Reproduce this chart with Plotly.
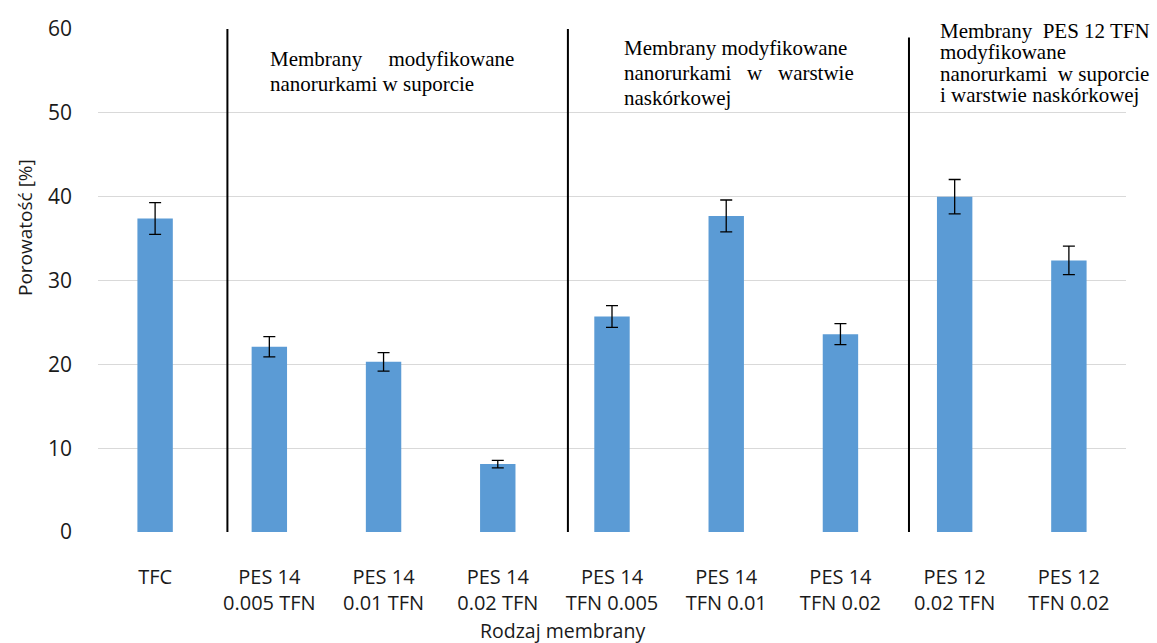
import plotly.graph_objects as go

# Porosity of the membranes (mean value and standard deviation)
categories = [
    "TFC",
    "PES 14<br>0.005 TFN",
    "PES 14<br>0.01 TFN",
    "PES 14<br>0.02 TFN",
    "PES 14<br>TFN 0.005",
    "PES 14<br>TFN 0.01",
    "PES 14<br>TFN 0.02",
    "PES 12<br>0.02 TFN",
    "PES 12<br>TFN 0.02",
]
porosity = [37.4, 22.1, 20.3, 8.1, 25.7, 37.7, 23.6, 40.0, 32.4]
porosity_err = [1.9, 1.2, 1.1, 0.45, 1.3, 1.9, 1.25, 2.05, 1.7]
y_ticks = [0, 10, 20, 30, 40, 50, 60]

# Group separators (positions between categories)
separator_x = [0.633, 3.614, 6.60]
separator_top = [60.3, 60.3, 59.0]

# Group descriptions: left edge and top of first line in pixels, line pitch
NB = "\u00a0"
group_texts = [
    (268, 45.0, 25.0, ["Membrany" + NB * 5 + "modyfikowane",
                       "nanorurkami w suporcie"]),
    (622, 34.0, 25.0, ["Membrany modyfikowane",
                       "nanorurkami" + NB * 3 + "w" + NB * 3 + "warstwie",
                       "naskórkowej"]),
    (938, 17.0, 21.3, ["Membrany" + NB * 2 + "PES 12 TFN", "modyfikowane",
                       "nanorurkami" + NB * 2 + "w suporcie",
                       "i warstwie naskórkowej"]),
]

W, H = 1157, 643
ML, MR, MT, MB = 98, 31, 29, 111
PW, PH = W - ML - MR, H - MT - MB

x_pos = list(range(len(categories)))

fig = go.Figure()
fig.add_trace(go.Bar(
    x=x_pos,
    y=porosity,
    width=0.31,
    marker=dict(color="#5b9bd5", line=dict(width=0)),
    error_y=dict(type="data", array=porosity_err, visible=True,
                 color="black", thickness=1.3, width=6),
))

for xs, ytop in zip(separator_x, separator_top):
    fig.add_shape(type="line", xref="x", yref="y", x0=xs, x1=xs,
                  y0=-1.2, y1=ytop, line=dict(color="black", width=2))

for left_px, top_px, pitch, lines in group_texts:
    for i, line in enumerate(lines):
        fig.add_annotation(
            x=(left_px - ML) / PW, y=(MT + PH - (top_px + i * pitch)) / PH,
            xref="paper", yref="paper",
            text=line, showarrow=False, xanchor="left", yanchor="top",
            align="left",
            font=dict(family="Liberation Serif", size=21, color="black"),
        )

# Axis titles
fig.add_annotation(
    x=(562 - ML) / PW, y=0, xref="paper", yref="paper", yshift=-98,
    text="Rodzaj membrany", showarrow=False, xanchor="center", yanchor="middle",
    font=dict(family="Open Sans", size=19.5, color="#1a1a1a"),
)
fig.add_annotation(
    x=(25 - ML) / PW, y=(MT + PH - 228) / PH, xref="paper", yref="paper",
    text="Porowatość [%]", showarrow=False, textangle=-90,
    xanchor="center", yanchor="middle",
    font=dict(family="Open Sans", size=19, color="#1a1a1a"),
)

fig.update_layout(
    width=W, height=H,
    margin=dict(l=ML, r=MR, t=MT, b=MB),
    paper_bgcolor="white", plot_bgcolor="white",
    showlegend=False,
    font=dict(family="Open Sans", size=19.5, color="#1a1a1a"),
    xaxis=dict(
        range=[-0.5, len(categories) - 0.5],
        tickmode="array", tickvals=x_pos, ticktext=categories,
        showgrid=False, zeroline=False, showline=False, ticks="",
        ticklabelstandoff=31,
        tickfont=dict(size=20),
    ),
    yaxis=dict(
        range=[0, 60], tickmode="array", tickvals=y_ticks,
        showgrid=True, gridcolor="#d9d9d9", gridwidth=1.3,
        zeroline=False, showline=False, ticks="",
        ticklabelstandoff=25,
        tickfont=dict(size=21),
    ),
)

fig.write_html("out.html")
